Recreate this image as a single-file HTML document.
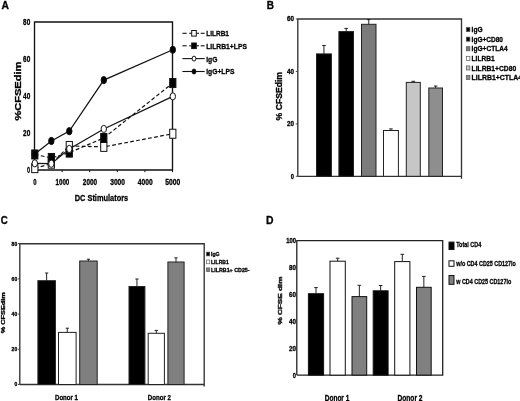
<!DOCTYPE html>
<html><head><meta charset="utf-8"><style>
html,body{margin:0;padding:0;background:#fff;}
svg{display:block;font-family:"Liberation Sans", sans-serif;will-change:transform;filter:blur(0.35px);}
</style></head><body>
<svg width="520" height="401" viewBox="0 0 520 401">
<rect width="520" height="401" fill="#fff"/>
<text x="1.6" y="9.2" font-size="10.2" font-weight="bold" fill="#000" stroke="#000" stroke-width="0.3" textLength="7.4" lengthAdjust="spacingAndGlyphs" >A</text>
<path d="M34.5 170 V22 H172.5 V170 Z" fill="none" stroke="#111" stroke-width="1.35"/>
<line x1="62.1" y1="170" x2="62.1" y2="172.2" stroke="#111" stroke-width="1"/>
<line x1="89.7" y1="170" x2="89.7" y2="172.2" stroke="#111" stroke-width="1"/>
<line x1="117.3" y1="170" x2="117.3" y2="172.2" stroke="#111" stroke-width="1"/>
<line x1="144.9" y1="170" x2="144.9" y2="172.2" stroke="#111" stroke-width="1"/>
<line x1="172.5" y1="170" x2="172.5" y2="172.2" stroke="#111" stroke-width="1"/>
<text x="30.3" y="24.5" font-size="8.9" font-weight="bold" fill="#000" stroke="#000" stroke-width="0.3" text-anchor="end" textLength="7.2" lengthAdjust="spacingAndGlyphs" >80</text>
<text x="30.3" y="61.5" font-size="8.9" font-weight="bold" fill="#000" stroke="#000" stroke-width="0.3" text-anchor="end" textLength="7.2" lengthAdjust="spacingAndGlyphs" >60</text>
<text x="30.3" y="98.5" font-size="8.9" font-weight="bold" fill="#000" stroke="#000" stroke-width="0.3" text-anchor="end" textLength="7.2" lengthAdjust="spacingAndGlyphs" >40</text>
<text x="30.3" y="135.5" font-size="8.9" font-weight="bold" fill="#000" stroke="#000" stroke-width="0.3" text-anchor="end" textLength="7.2" lengthAdjust="spacingAndGlyphs" >20</text>
<text x="30.0" y="172.7" font-size="8.9" font-weight="bold" fill="#000" stroke="#000" stroke-width="0.3" text-anchor="end" textLength="3.0" lengthAdjust="spacingAndGlyphs" >0</text>
<text x="34.8" y="185.4" font-size="8.4" font-weight="bold" fill="#000" stroke="#000" stroke-width="0.3" text-anchor="middle" textLength="3.3" lengthAdjust="spacingAndGlyphs" >0</text>
<text x="62.4" y="185.4" font-size="8.4" font-weight="bold" fill="#000" stroke="#000" stroke-width="0.3" text-anchor="middle" textLength="13.8" lengthAdjust="spacingAndGlyphs" >1000</text>
<text x="90.0" y="185.4" font-size="8.4" font-weight="bold" fill="#000" stroke="#000" stroke-width="0.3" text-anchor="middle" textLength="14.3" lengthAdjust="spacingAndGlyphs" >2000</text>
<text x="117.6" y="185.4" font-size="8.4" font-weight="bold" fill="#000" stroke="#000" stroke-width="0.3" text-anchor="middle" textLength="14.8" lengthAdjust="spacingAndGlyphs" >3000</text>
<text x="145.20000000000002" y="185.4" font-size="8.4" font-weight="bold" fill="#000" stroke="#000" stroke-width="0.3" text-anchor="middle" textLength="14.8" lengthAdjust="spacingAndGlyphs" >4000</text>
<text x="172.8" y="185.4" font-size="8.4" font-weight="bold" fill="#000" stroke="#000" stroke-width="0.3" text-anchor="middle" textLength="15" lengthAdjust="spacingAndGlyphs" >5000</text>
<text x="74.7" y="200.8" font-size="9.6" font-weight="bold" fill="#000" stroke="#000" stroke-width="0.3" textLength="53.5" lengthAdjust="spacingAndGlyphs" >DC Stimulators</text>
<text x="21.0" y="120.6" font-size="9.0" font-weight="bold" fill="#000" stroke="#000" stroke-width="0.3" textLength="59" lengthAdjust="spacingAndGlyphs" transform="rotate(-90 21.0 120.6)" >%CFSEdim</text>
<polyline points="34.80,168.15 51.36,163.71 69.30,145.95 103.80,146.88 172.80,133.74" fill="none" stroke="#111" stroke-width="1.2" stroke-dasharray="3.8 2.3"/>
<polyline points="34.80,154.46 51.36,157.97 69.30,152.61 103.80,138.00 172.80,83.05" fill="none" stroke="#111" stroke-width="1.2" stroke-dasharray="3.8 2.3"/>
<polyline points="34.80,163.34 51.36,163.71 69.30,148.91 103.80,128.93 172.80,96.37" fill="none" stroke="#111" stroke-width="1.2"/>
<polyline points="34.80,154.09 51.36,140.96 69.30,131.15 103.80,80.09 172.80,49.75" fill="none" stroke="#111" stroke-width="1.2"/>
<rect x="31.70" y="163.65" width="6.2" height="9.0" fill="#fff" stroke="#111" stroke-width="1"/>
<rect x="48.26" y="159.21" width="6.2" height="9.0" fill="#fff" stroke="#111" stroke-width="1"/>
<rect x="66.20" y="141.45" width="6.2" height="9.0" fill="#fff" stroke="#111" stroke-width="1"/>
<rect x="100.70" y="142.38" width="6.2" height="9.0" fill="#fff" stroke="#111" stroke-width="1"/>
<rect x="169.70" y="129.24" width="6.2" height="9.0" fill="#fff" stroke="#111" stroke-width="1"/>
<rect x="31.70" y="149.96" width="6.2" height="9.0" fill="#000" stroke="#111" stroke-width="1"/>
<rect x="48.26" y="153.47" width="6.2" height="9.0" fill="#000" stroke="#111" stroke-width="1"/>
<rect x="66.20" y="148.11" width="6.2" height="9.0" fill="#000" stroke="#111" stroke-width="1"/>
<rect x="100.70" y="133.50" width="6.2" height="9.0" fill="#000" stroke="#111" stroke-width="1"/>
<rect x="169.70" y="78.55" width="6.2" height="9.0" fill="#000" stroke="#111" stroke-width="1"/>
<ellipse cx="34.80" cy="163.34" rx="2.7" ry="3.6" fill="#fff" stroke="#111" stroke-width="1"/>
<ellipse cx="51.36" cy="163.71" rx="2.7" ry="3.6" fill="#fff" stroke="#111" stroke-width="1"/>
<ellipse cx="69.30" cy="148.91" rx="2.7" ry="3.6" fill="#fff" stroke="#111" stroke-width="1"/>
<ellipse cx="103.80" cy="128.93" rx="2.7" ry="3.6" fill="#fff" stroke="#111" stroke-width="1"/>
<ellipse cx="172.80" cy="96.37" rx="2.7" ry="3.6" fill="#fff" stroke="#111" stroke-width="1"/>
<ellipse cx="34.80" cy="154.09" rx="2.7" ry="3.6" fill="#000" stroke="#111" stroke-width="1"/>
<ellipse cx="51.36" cy="140.96" rx="2.7" ry="3.6" fill="#000" stroke="#111" stroke-width="1"/>
<ellipse cx="69.30" cy="131.15" rx="2.7" ry="3.6" fill="#000" stroke="#111" stroke-width="1"/>
<ellipse cx="103.80" cy="80.09" rx="2.7" ry="3.6" fill="#000" stroke="#111" stroke-width="1"/>
<ellipse cx="172.80" cy="49.75" rx="2.7" ry="3.6" fill="#000" stroke="#111" stroke-width="1"/>
<line x1="182.4" y1="33.3" x2="186.7" y2="33.3" stroke="#111" stroke-width="1.1"/>
<line x1="189.2" y1="33.3" x2="191.5" y2="33.3" stroke="#111" stroke-width="1.1"/>
<line x1="196.6" y1="33.3" x2="199.0" y2="33.3" stroke="#111" stroke-width="1.1"/>
<line x1="200.7" y1="33.3" x2="204.6" y2="33.3" stroke="#111" stroke-width="1.1"/>
<rect x="191.70" y="30.50" width="4.6" height="5.6" fill="#fff" stroke="#111" stroke-width="1"/>
<text x="206.2" y="36.199999999999996" font-size="8.0" font-weight="bold" fill="#000" stroke="#000" stroke-width="0.3" textLength="22.8" lengthAdjust="spacingAndGlyphs" >LILRB1</text>
<line x1="182.4" y1="45.8" x2="186.7" y2="45.8" stroke="#111" stroke-width="1.1"/>
<line x1="189.2" y1="45.8" x2="191.5" y2="45.8" stroke="#111" stroke-width="1.1"/>
<line x1="196.6" y1="45.8" x2="199.0" y2="45.8" stroke="#111" stroke-width="1.1"/>
<line x1="200.7" y1="45.8" x2="204.6" y2="45.8" stroke="#111" stroke-width="1.1"/>
<rect x="191.70" y="43.00" width="4.6" height="5.6" fill="#000" stroke="#111" stroke-width="1"/>
<text x="206.2" y="48.699999999999996" font-size="8.0" font-weight="bold" fill="#000" stroke="#000" stroke-width="0.3" textLength="40.7" lengthAdjust="spacingAndGlyphs" >LILRB1+LPS</text>
<line x1="182.4" y1="58.6" x2="204.7" y2="58.6" stroke="#111" stroke-width="1.1"/>
<ellipse cx="194.00" cy="58.60" rx="1.9" ry="2.5" fill="#fff" stroke="#111" stroke-width="1"/>
<text x="206.2" y="61.5" font-size="8.0" font-weight="bold" fill="#000" stroke="#000" stroke-width="0.3" textLength="11.2" lengthAdjust="spacingAndGlyphs" >IgG</text>
<line x1="182.4" y1="71.5" x2="204.7" y2="71.5" stroke="#111" stroke-width="1.1"/>
<ellipse cx="194.00" cy="71.50" rx="1.9" ry="2.5" fill="#000" stroke="#111" stroke-width="1"/>
<text x="206.2" y="74.4" font-size="8.0" font-weight="bold" fill="#000" stroke="#000" stroke-width="0.3" textLength="28.2" lengthAdjust="spacingAndGlyphs" >IgG+LPS</text>
<text x="266.8" y="8.6" font-size="10.0" font-weight="bold" fill="#000" stroke="#000" stroke-width="0.3" textLength="7.2" lengthAdjust="spacingAndGlyphs" >B</text>
<path d="M297.8 176.3 V19.0 H461.5 V178.8 M297.8 176.3 H461.5" fill="none" stroke="#333" stroke-width="1.35"/>
<line x1="295.8" y1="19.0" x2="297.8" y2="19.0" stroke="#444" stroke-width="1"/>
<text x="294.0" y="21.3" font-size="6.6" font-weight="bold" fill="#000" stroke="#000" stroke-width="0.3" text-anchor="end" textLength="7.0" lengthAdjust="spacingAndGlyphs" >60</text>
<line x1="295.8" y1="71.43333333333335" x2="297.8" y2="71.43333333333335" stroke="#444" stroke-width="1"/>
<text x="294.0" y="73.73333333333335" font-size="6.6" font-weight="bold" fill="#000" stroke="#000" stroke-width="0.3" text-anchor="end" textLength="7.0" lengthAdjust="spacingAndGlyphs" >40</text>
<line x1="295.8" y1="123.86666666666667" x2="297.8" y2="123.86666666666667" stroke="#444" stroke-width="1"/>
<text x="294.0" y="126.16666666666667" font-size="6.6" font-weight="bold" fill="#000" stroke="#000" stroke-width="0.3" text-anchor="end" textLength="7.0" lengthAdjust="spacingAndGlyphs" >20</text>
<line x1="295.8" y1="176.3" x2="297.8" y2="176.3" stroke="#444" stroke-width="1"/>
<text x="294.0" y="178.60000000000002" font-size="6.6" font-weight="bold" fill="#000" stroke="#000" stroke-width="0.3" text-anchor="end" textLength="3.2" lengthAdjust="spacingAndGlyphs" >0</text>
<text x="282.2" y="120.4" font-size="8.5" font-weight="bold" fill="#000" stroke="#000" stroke-width="0.3" textLength="48.4" lengthAdjust="spacingAndGlyphs" transform="rotate(-90 282.2 120.4)" >% CFSEdim</text>
<line x1="323.95" y1="53.9" x2="323.95" y2="45.5" stroke="#222" stroke-width="1"/>
<line x1="322.15" y1="45.5" x2="325.75" y2="45.5" stroke="#222" stroke-width="1"/>
<rect x="316.5" y="53.9" width="14.899999999999977" height="122.4" fill="#000" stroke="#222" stroke-width="1"/>
<line x1="346.2" y1="31.6" x2="346.2" y2="28.4" stroke="#222" stroke-width="1"/>
<line x1="344.4" y1="28.4" x2="348.0" y2="28.4" stroke="#222" stroke-width="1"/>
<rect x="338.9" y="31.6" width="14.600000000000023" height="144.70000000000002" fill="#000" stroke="#222" stroke-width="1"/>
<line x1="368.75" y1="24.3" x2="368.75" y2="19.6" stroke="#222" stroke-width="1"/>
<line x1="366.95" y1="19.6" x2="370.55" y2="19.6" stroke="#222" stroke-width="1"/>
<rect x="361.5" y="24.3" width="14.5" height="152.0" fill="#7b7b7b" stroke="#222" stroke-width="1"/>
<line x1="390.95" y1="130.5" x2="390.95" y2="128.9" stroke="#222" stroke-width="1"/>
<line x1="389.15" y1="128.9" x2="392.75" y2="128.9" stroke="#222" stroke-width="1"/>
<rect x="383.5" y="130.5" width="14.899999999999977" height="45.80000000000001" fill="#fff" stroke="#222" stroke-width="1"/>
<line x1="413.3" y1="82.4" x2="413.3" y2="81.3" stroke="#222" stroke-width="1"/>
<line x1="411.5" y1="81.3" x2="415.1" y2="81.3" stroke="#222" stroke-width="1"/>
<rect x="406.3" y="82.4" width="14.0" height="93.9" fill="#c6c6c6" stroke="#222" stroke-width="1"/>
<line x1="435.65" y1="88.0" x2="435.65" y2="86.0" stroke="#222" stroke-width="1"/>
<line x1="433.84999999999997" y1="86.0" x2="437.45" y2="86.0" stroke="#222" stroke-width="1"/>
<rect x="428.8" y="88.0" width="13.699999999999989" height="88.30000000000001" fill="#8e8e8e" stroke="#222" stroke-width="1"/>
<rect x="466.3" y="27.5" width="3.6" height="4.1" fill="#000" stroke="#555" stroke-width="0.7"/>
<text x="471.6" y="32.1" font-size="7.5" font-weight="bold" fill="#000" stroke="#000" stroke-width="0.3" textLength="11.0" lengthAdjust="spacingAndGlyphs" >IgG</text>
<rect x="466.3" y="37.1" width="3.6" height="4.1" fill="#000" stroke="#555" stroke-width="0.7"/>
<text x="471.6" y="41.7" font-size="7.5" font-weight="bold" fill="#000" stroke="#000" stroke-width="0.3" textLength="31.4" lengthAdjust="spacingAndGlyphs" >IgG+CD80</text>
<rect x="466.3" y="46.699999999999996" width="3.6" height="4.1" fill="#7b7b7b" stroke="#555" stroke-width="0.7"/>
<text x="471.6" y="51.3" font-size="7.5" font-weight="bold" fill="#000" stroke="#000" stroke-width="0.3" textLength="36.0" lengthAdjust="spacingAndGlyphs" >IgG+CTLA4</text>
<rect x="466.3" y="56.3" width="3.6" height="4.1" fill="#fff" stroke="#555" stroke-width="0.7"/>
<text x="471.6" y="60.9" font-size="7.5" font-weight="bold" fill="#000" stroke="#000" stroke-width="0.3" textLength="23.0" lengthAdjust="spacingAndGlyphs" >LILRB1</text>
<rect x="466.3" y="65.9" width="3.6" height="4.1" fill="#c6c6c6" stroke="#555" stroke-width="0.7"/>
<text x="471.6" y="70.5" font-size="7.5" font-weight="bold" fill="#000" stroke="#000" stroke-width="0.3" textLength="44.6" lengthAdjust="spacingAndGlyphs" >LILRB1+CD80</text>
<rect x="466.3" y="75.5" width="3.6" height="4.1" fill="#8e8e8e" stroke="#555" stroke-width="0.7"/>
<text x="471.6" y="80.1" font-size="7.5" font-weight="bold" fill="#000" stroke="#000" stroke-width="0.3" textLength="50.5" lengthAdjust="spacingAndGlyphs" >LILRB1+CTLA4</text>
<text x="0.8" y="224.4" font-size="10.6" font-weight="bold" fill="#000" stroke="#000" stroke-width="0.3" textLength="7.0" lengthAdjust="spacingAndGlyphs" >C</text>
<path d="M19.8 384.5 V243.7 H204.2 V386.5 M19.8 384.5 H204.2" fill="none" stroke="#333" stroke-width="1.35"/>
<line x1="18.0" y1="243.7" x2="19.8" y2="243.7" stroke="#444" stroke-width="1"/>
<text x="17.2" y="245.6" font-size="5.6" font-weight="bold" fill="#000" stroke="#000" stroke-width="0.3" text-anchor="end" textLength="5.6" lengthAdjust="spacingAndGlyphs" >80</text>
<line x1="18.0" y1="278.9" x2="19.8" y2="278.9" stroke="#444" stroke-width="1"/>
<text x="17.2" y="280.79999999999995" font-size="5.6" font-weight="bold" fill="#000" stroke="#000" stroke-width="0.3" text-anchor="end" textLength="5.6" lengthAdjust="spacingAndGlyphs" >60</text>
<line x1="18.0" y1="314.1" x2="19.8" y2="314.1" stroke="#444" stroke-width="1"/>
<text x="17.2" y="316.0" font-size="5.6" font-weight="bold" fill="#000" stroke="#000" stroke-width="0.3" text-anchor="end" textLength="5.6" lengthAdjust="spacingAndGlyphs" >40</text>
<line x1="18.0" y1="349.3" x2="19.8" y2="349.3" stroke="#444" stroke-width="1"/>
<text x="17.2" y="351.2" font-size="5.6" font-weight="bold" fill="#000" stroke="#000" stroke-width="0.3" text-anchor="end" textLength="5.6" lengthAdjust="spacingAndGlyphs" >20</text>
<line x1="18.0" y1="384.5" x2="19.8" y2="384.5" stroke="#444" stroke-width="1"/>
<text x="17.2" y="386.4" font-size="5.6" font-weight="bold" fill="#000" stroke="#000" stroke-width="0.3" text-anchor="end" textLength="2.8" lengthAdjust="spacingAndGlyphs" >0</text>
<text x="5.2" y="333.2" font-size="6.0" font-weight="bold" fill="#000" stroke="#000" stroke-width="0.3" textLength="41" lengthAdjust="spacingAndGlyphs" transform="rotate(-90 5.2 333.2)" >% CFSEdim</text>
<line x1="46.65" y1="280.7" x2="46.65" y2="273.0" stroke="#222" stroke-width="1"/>
<line x1="45.05" y1="273.0" x2="48.25" y2="273.0" stroke="#222" stroke-width="1"/>
<rect x="37.9" y="280.7" width="17.5" height="103.80000000000001" fill="#000" stroke="#222" stroke-width="1"/>
<line x1="67.3" y1="332.4" x2="67.3" y2="328.2" stroke="#222" stroke-width="1"/>
<line x1="65.7" y1="328.2" x2="68.89999999999999" y2="328.2" stroke="#222" stroke-width="1"/>
<rect x="58.5" y="332.4" width="17.599999999999994" height="52.10000000000002" fill="#fff" stroke="#222" stroke-width="1"/>
<line x1="88.45" y1="261.0" x2="88.45" y2="259.2" stroke="#222" stroke-width="1"/>
<line x1="86.85000000000001" y1="259.2" x2="90.05" y2="259.2" stroke="#222" stroke-width="1"/>
<rect x="79.7" y="261.0" width="17.5" height="123.5" fill="#7f7f7f" stroke="#222" stroke-width="1"/>
<line x1="136.95" y1="286.5" x2="136.95" y2="279.0" stroke="#222" stroke-width="1"/>
<line x1="135.35" y1="279.0" x2="138.54999999999998" y2="279.0" stroke="#222" stroke-width="1"/>
<rect x="129.0" y="286.5" width="15.900000000000006" height="98.0" fill="#000" stroke="#222" stroke-width="1"/>
<line x1="156.3" y1="333.3" x2="156.3" y2="330.4" stroke="#222" stroke-width="1"/>
<line x1="154.70000000000002" y1="330.4" x2="157.9" y2="330.4" stroke="#222" stroke-width="1"/>
<rect x="148.2" y="333.3" width="16.200000000000017" height="51.19999999999999" fill="#fff" stroke="#222" stroke-width="1"/>
<line x1="176.0" y1="262.0" x2="176.0" y2="257.8" stroke="#222" stroke-width="1"/>
<line x1="174.4" y1="257.8" x2="177.6" y2="257.8" stroke="#222" stroke-width="1"/>
<rect x="167.9" y="262.0" width="16.19999999999999" height="122.5" fill="#7f7f7f" stroke="#222" stroke-width="1"/>
<text x="55.0" y="400.2" font-size="7.6" font-weight="bold" fill="#000" stroke="#000" stroke-width="0.3" textLength="23.0" lengthAdjust="spacingAndGlyphs" >Donor 1</text>
<text x="147.7" y="399.8" font-size="7.6" font-weight="bold" fill="#000" stroke="#000" stroke-width="0.3" textLength="23.3" lengthAdjust="spacingAndGlyphs" >Donor 2</text>
<rect x="206.4" y="252.1" width="3.4" height="3.8" fill="#000" stroke="#555" stroke-width="0.6"/>
<text x="211.0" y="256.0" font-size="5.6" font-weight="bold" fill="#000" stroke="#000" stroke-width="0.3" textLength="8.6" lengthAdjust="spacingAndGlyphs" >IgG</text>
<rect x="206.4" y="260.0" width="3.4" height="3.8" fill="#fff" stroke="#555" stroke-width="0.6"/>
<text x="211.0" y="263.9" font-size="5.6" font-weight="bold" fill="#000" stroke="#000" stroke-width="0.3" textLength="17.8" lengthAdjust="spacingAndGlyphs" >LILRB1</text>
<rect x="206.4" y="267.90000000000003" width="3.4" height="3.8" fill="#7f7f7f" stroke="#555" stroke-width="0.6"/>
<text x="211.0" y="271.8" font-size="5.6" font-weight="bold" fill="#000" stroke="#000" stroke-width="0.3" textLength="38.6" lengthAdjust="spacingAndGlyphs" >LILRB1+ CD25-</text>
<text x="266.0" y="223.8" font-size="10.6" font-weight="bold" fill="#000" stroke="#000" stroke-width="0.3" textLength="7.5" lengthAdjust="spacingAndGlyphs" >D</text>
<path d="M296.8 375.1 V240.6 H442.7 V375.1 H296.8" fill="none" stroke="#222" stroke-width="1.3"/>
<text x="296.0" y="243.1" font-size="7.2" font-weight="bold" fill="#000" stroke="#000" stroke-width="0.3" text-anchor="end" textLength="9.8" lengthAdjust="spacingAndGlyphs" >100</text>
<text x="296.0" y="270.0" font-size="7.2" font-weight="bold" fill="#000" stroke="#000" stroke-width="0.3" text-anchor="end" textLength="7.0" lengthAdjust="spacingAndGlyphs" >80</text>
<text x="296.0" y="296.9" font-size="7.2" font-weight="bold" fill="#000" stroke="#000" stroke-width="0.3" text-anchor="end" textLength="7.0" lengthAdjust="spacingAndGlyphs" >60</text>
<text x="296.0" y="323.8" font-size="7.2" font-weight="bold" fill="#000" stroke="#000" stroke-width="0.3" text-anchor="end" textLength="7.0" lengthAdjust="spacingAndGlyphs" >40</text>
<text x="296.0" y="350.70000000000005" font-size="7.2" font-weight="bold" fill="#000" stroke="#000" stroke-width="0.3" text-anchor="end" textLength="7.0" lengthAdjust="spacingAndGlyphs" >20</text>
<text x="296.0" y="377.6" font-size="7.2" font-weight="bold" fill="#000" stroke="#000" stroke-width="0.3" text-anchor="end" textLength="3.2" lengthAdjust="spacingAndGlyphs" >0</text>
<text x="282.2" y="324.6" font-size="6.1" font-weight="bold" fill="#222" stroke="#222" stroke-width="0.45" textLength="48" lengthAdjust="spacingAndGlyphs" transform="rotate(-90 282.2 324.6)" >% CFSE dim</text>
<line x1="316.0" y1="293.7" x2="316.0" y2="287.6" stroke="#222" stroke-width="1"/>
<line x1="314.2" y1="287.6" x2="317.8" y2="287.6" stroke="#222" stroke-width="1"/>
<rect x="308.4" y="293.7" width="15.200000000000045" height="81.40000000000003" fill="#000" stroke="#111" stroke-width="1"/>
<line x1="337.65" y1="261.2" x2="337.65" y2="258.2" stroke="#222" stroke-width="1"/>
<line x1="335.84999999999997" y1="258.2" x2="339.45" y2="258.2" stroke="#222" stroke-width="1"/>
<rect x="330.0" y="261.2" width="15.300000000000011" height="113.90000000000003" fill="#fff" stroke="#111" stroke-width="1"/>
<line x1="359.35" y1="296.6" x2="359.35" y2="285.3" stroke="#222" stroke-width="1"/>
<line x1="357.55" y1="285.3" x2="361.15000000000003" y2="285.3" stroke="#222" stroke-width="1"/>
<rect x="352.0" y="296.6" width="14.699999999999989" height="78.5" fill="#808080" stroke="#111" stroke-width="1"/>
<line x1="380.65" y1="290.8" x2="380.65" y2="285.5" stroke="#222" stroke-width="1"/>
<line x1="378.84999999999997" y1="285.5" x2="382.45" y2="285.5" stroke="#222" stroke-width="1"/>
<rect x="373.2" y="290.8" width="14.900000000000034" height="84.30000000000001" fill="#000" stroke="#111" stroke-width="1"/>
<line x1="402.29999999999995" y1="261.6" x2="402.29999999999995" y2="254.3" stroke="#222" stroke-width="1"/>
<line x1="400.49999999999994" y1="254.3" x2="404.09999999999997" y2="254.3" stroke="#222" stroke-width="1"/>
<rect x="394.7" y="261.6" width="15.199999999999989" height="113.5" fill="#fff" stroke="#111" stroke-width="1"/>
<line x1="423.85" y1="287.3" x2="423.85" y2="276.4" stroke="#222" stroke-width="1"/>
<line x1="422.05" y1="276.4" x2="425.65000000000003" y2="276.4" stroke="#222" stroke-width="1"/>
<rect x="416.5" y="287.3" width="14.699999999999989" height="87.80000000000001" fill="#808080" stroke="#111" stroke-width="1"/>
<text x="324.8" y="400.5" font-size="8.6" font-weight="bold" fill="#000" stroke="#000" stroke-width="0.3" textLength="24.5" lengthAdjust="spacingAndGlyphs" >Donor 1</text>
<text x="397.5" y="400.5" font-size="8.6" font-weight="bold" fill="#000" stroke="#000" stroke-width="0.3" textLength="25.0" lengthAdjust="spacingAndGlyphs" >Donor 2</text>
<rect x="449.0" y="242.1" width="5.0" height="7.400000000000006" fill="#000" stroke="#111" stroke-width="1"/>
<text x="456.2" y="247.10000000000002" font-size="7.9" font-weight="bold" fill="#000" stroke="#000" stroke-width="0.3" textLength="25.0" lengthAdjust="spacingAndGlyphs" >Total CD4</text>
<rect x="449.0" y="260.8" width="5.0" height="5.5" fill="#fff" stroke="#111" stroke-width="1"/>
<text x="456.2" y="265.90000000000003" font-size="7.9" font-weight="bold" fill="#000" stroke="#000" stroke-width="0.3" textLength="59.7" lengthAdjust="spacingAndGlyphs" >w/o CD4 CD25 CD127lo</text>
<rect x="449.0" y="275.5" width="5.0" height="8.800000000000011" fill="#808080" stroke="#111" stroke-width="1"/>
<text x="456.2" y="283.5" font-size="7.9" font-weight="bold" fill="#000" stroke="#000" stroke-width="0.3" textLength="55.0" lengthAdjust="spacingAndGlyphs" >w CD4 CD25 CD127lo</text>
</svg>
</body></html>
